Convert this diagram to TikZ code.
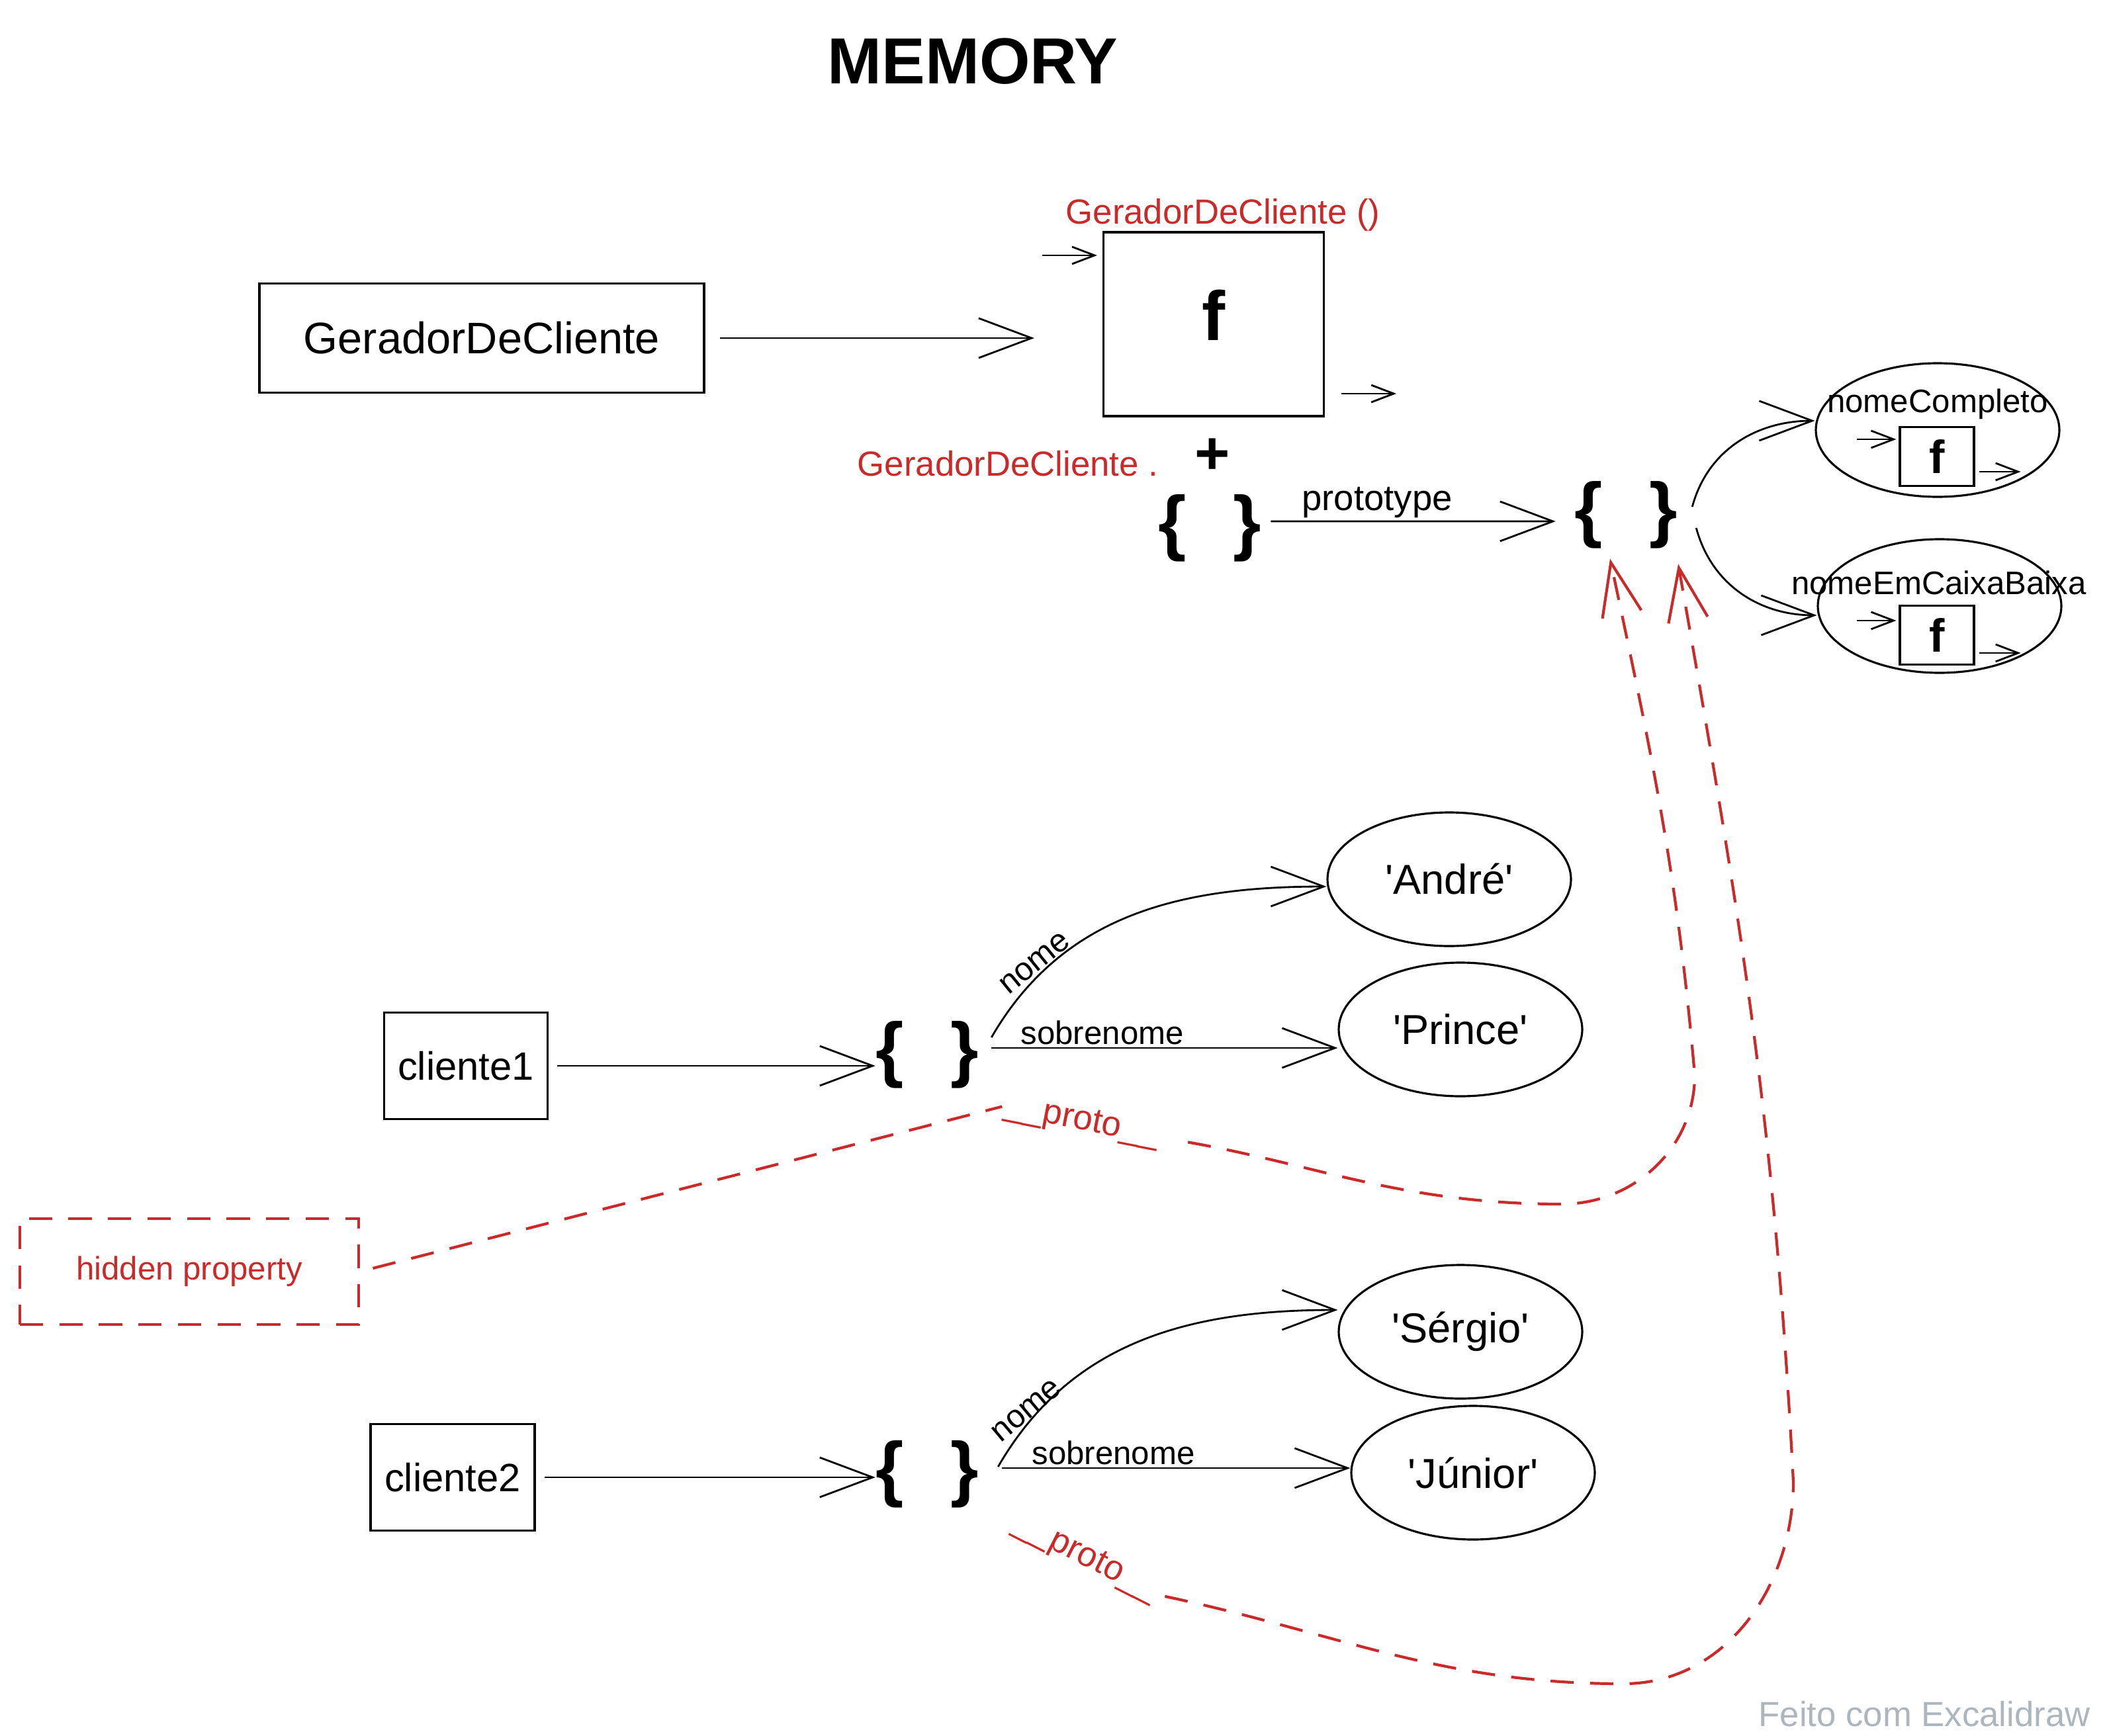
\documentclass[tikz,border=0pt]{standalone}
\usepackage{fontspec}
\setmainfont{Liberation Sans}
\usetikzlibrary{arrows.meta,shapes.geometric}

\definecolor{protored}{RGB}{201,42,42}
\definecolor{markgray}{RGB}{173,181,189}

\begin{document}
\begin{tikzpicture}[
	namebox/.style={draw,line width=1.1pt,inner sep=0pt},
	fcell/.style={draw,line width=0.9pt,inner sep=0pt,font=\fontsize{20}{20}\bfseries\selectfont,minimum width=1.12cm,minimum height=0.89cm},
	objbraces/.style={font=\fontsize{31}{31}\bfseries\selectfont,inner sep=0pt},
	value/.style={draw,ellipse,line width=0.9pt,minimum width=3.68cm,minimum height=2.02cm,inner sep=0pt,font=\fontsize{18}{20}\selectfont},
	lbl/.style={font=\fontsize{14}{16}\selectfont,inner sep=1pt},
	redlbl/.style={text=protored,font=\fontsize{15}{17}\selectfont,inner sep=1pt},
	link/.style={line width=0.8pt,-{Straight Barb[length=8mm,width=6mm]}},
	smalllink/.style={line width=0.8pt,-{Straight Barb[length=3.4mm,width=2.6mm]}},
	protoline/.style={protored,line width=1.2pt,dash pattern=on 10pt off 7pt},
	protolink/.style={protoline,-{Straight Barb[length=8mm,width=6mm]}}
]
	\useasboundingbox (0,0) rectangle (31.84,-26.24);

	\node[font=\fontsize{28}{30}\bfseries\selectfont] (title) at (14.70,-0.93) {MEMORY};

	\node[namebox,minimum width=6.72cm,minimum height=1.65cm,font=\fontsize{19}{21}\selectfont] (gdc) at (7.28,-5.11) {GeradorDeCliente};
	\node[draw,line width=0.9pt,minimum width=3.33cm,minimum height=2.78cm,text depth=2.8mm,font=\fontsize{30}{30}\bfseries\selectfont] (fbox) at (18.34,-4.90) {f};
	\node[redlbl] (gcall) at (18.48,-3.25) {GeradorDeCliente ()};
	\node[redlbl] (gdot) at (15.23,-7.01) {GeradorDeCliente .};
	\node[font=\fontsize{26}{26}\bfseries\selectfont] (plus) at (18.32,-6.90) {+};
	\node[objbraces] (cobj) at (18.28,-7.98) {\{\hspace{20pt}\}};
	\node[objbraces] (pobj) at (24.57,-7.78) {\{\hspace{20pt}\}};

	\node[value] (m1) at (29.28,-6.50) {};
	\node[lbl] (m1name) at (29.28,-6.11) {nomeCompleto};
	\node[fcell] (m1f) at (29.27,-6.90) {f};
	\node[value] (m2) at (29.31,-9.16) {};
	\node[lbl] (m2name) at (29.30,-8.81) {nomeEmCaixaBaixa};
	\node[fcell] (m2f) at (29.27,-9.60) {f};

	\node[namebox,minimum width=2.47cm,minimum height=1.61cm,font=\fontsize{17}{19}\selectfont] (c1) at (7.04,-16.11) {cliente1};
	\node[objbraces] (o1) at (14.01,-15.94) {\{\hspace{20pt}\}};
	\node[value] (a1) at (21.90,-13.29) {\textquotesingle André\textquotesingle};
	\node[value] (p1) at (22.07,-15.56) {\textquotesingle Prince\textquotesingle};
	\node[lbl,rotate=39] (n1) at (15.64,-14.56) {nome};
	\node[redlbl,rotate=-11] (pr1) at (16.35,-16.96) {\_\_proto\_\_};

	\node[draw,protoline,minimum width=5.12cm,minimum height=1.60cm,text=protored,font=\fontsize{14}{16}\selectfont] (hid) at (2.86,-19.22) {hidden property};

	\node[namebox,minimum width=2.48cm,minimum height=1.61cm,font=\fontsize{17}{19}\selectfont] (c2) at (6.84,-22.33) {cliente2};
	\node[objbraces] (o2) at (14.01,-22.28) {\{\hspace{20pt}\}};
	\node[value] (s2) at (22.07,-20.13) {\textquotesingle Sérgio\textquotesingle};
	\node[value] (j2) at (22.26,-22.26) {\textquotesingle Júnior\textquotesingle};
	\node[lbl,rotate=40] (n2) at (15.51,-21.32) {nome};
	\node[redlbl,rotate=-27] (pr2) at (16.41,-23.55) {\_\_proto\_\_};

	\node[text=markgray,font=\fontsize{15}{17}\selectfont] (mark) at (29.08,-25.91) {Feito com Excalidraw};

	\coordinate (s1) at ([shift={(0.19,0.10)}]o1.east);
	\coordinate (s3) at ([shift={(0.35,0.09)}]o2.east);
	\coordinate (k1) at (23.60,-18.20);
	\coordinate (k2) at (25.61,-16.25);
	\coordinate (k3) at (24.53,-25.45);
	\coordinate (k4) at (27.10,-22.40);
	\coordinate (t1) at ([shift={(-0.24,-0.15)}]pobj.south);
	\coordinate (t2) at ([shift={(0.79,-0.23)}]pobj.south);

	\draw[link,shorten <=2.2mm,shorten >=1.03cm] (gdc.east) -- (gdc.east -| fbox.west);
	\draw[smalllink] ([shift={(-0.91,1.04)}]fbox.west) -- ++(0.83,0);
	\draw[smalllink] ([shift={(0.25,-1.05)}]fbox.east) -- ++(0.83,0);
	\draw[link,shorten <=1.4mm,shorten >=2.8mm] ([yshift=1mm]cobj.east) -- ([yshift=-1mm]pobj.west) node[pos=0.37,above,lbl,font=\fontsize{15.5}{17}\selectfont] {prototype};
	\draw[link] ([shift={(0.22,0.12)}]pobj.east) to[out=75,in=180] ([yshift=1.4mm]m1.west);
	\draw[link] ([shift={(0.28,-0.20)}]pobj.east) to[out=-75,in=180] ([yshift=-1.4mm]m2.west);
	\draw[smalllink] ([shift={(-0.63,0.26)}]m1f.west) -- ++(0.59,0);
	\draw[smalllink] ([shift={(0.06,-0.23)}]m1f.east) -- ++(0.63,0);
	\draw[smalllink] ([shift={(-0.63,0.22)}]m2f.west) -- ++(0.59,0);
	\draw[smalllink] ([shift={(0.06,-0.27)}]m2f.east) -- ++(0.63,0);

	\draw[link,shorten <=1.3mm] (c1.east) -- (c1.east -| o1.west);
	\draw[link] ([shift={(0.19,0.26)}]o1.east) to[out=60,in=180] ([yshift=-1.1mm]a1.west);
	\draw[link] (s1) -- (s1 -| p1.west) node[pos=0.32,above,lbl] {sobrenome};

	\draw[link,shorten <=1.3mm] (c2.east) -- (c2.east -| o2.west);
	\draw[link] ([shift={(0.29,0.11)}]o2.east) to[out=60,in=180] ([yshift=3.3mm]s2.west);
	\draw[link] (s3) -- (s3 -| j2.west) node[pos=0.32,above,lbl] {sobrenome};

	\draw[protoline,shorten <=2mm] (hid.east) -- (pr1.west);
	\draw[protolink,shorten <=4mm] (pr1.east) to[out=-10,in=180] (k1) to[out=0,in=-90] (k2) to[out=95,in=-78] (t1);
	\draw[protolink,shorten <=1mm] (pr2.east) to[out=-12,in=180] (k3) to[out=0,in=-90] (k4) to[out=93,in=-80] (t2);
\end{tikzpicture}
\end{document}
